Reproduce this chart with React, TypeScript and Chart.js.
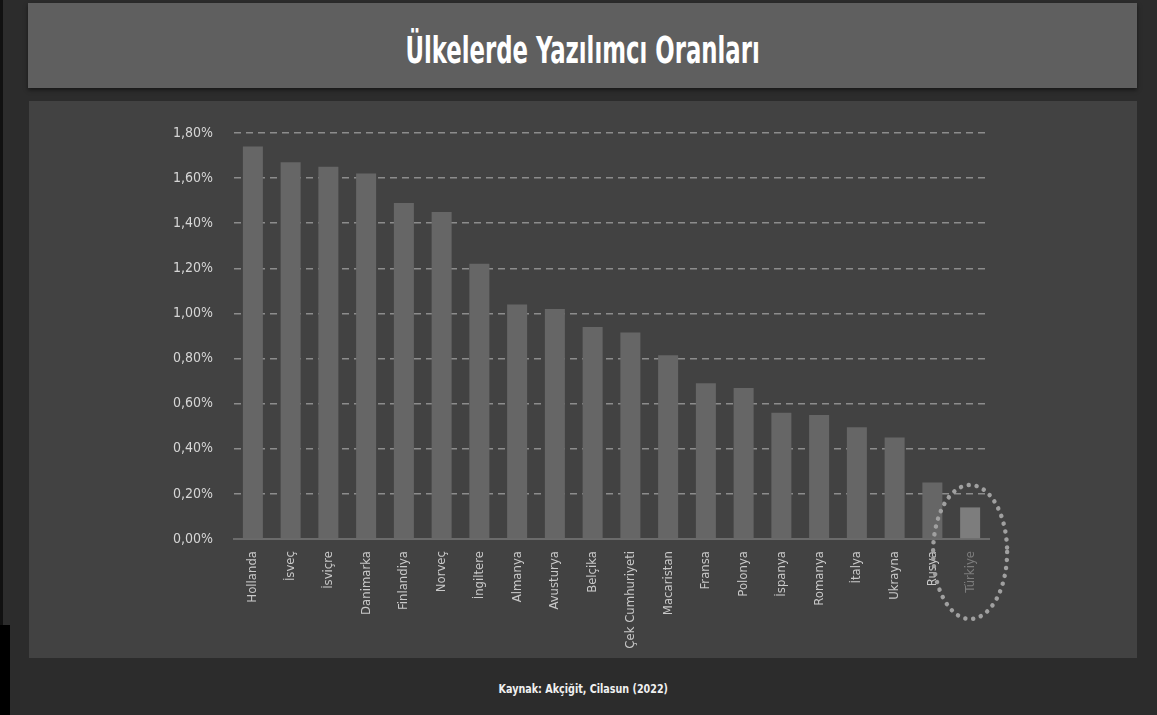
import React, { useEffect, useRef } from "react";
import { Chart, registerables } from "chart.js";

Chart.register(...registerables);

const categories = [
  "Hollanda", "İsveç", "İsviçre", "Danimarka", "Finlandiya", "Norveç",
  "İngiltere", "Almanya", "Avusturya", "Belçika", "Çek Cumhuriyeti",
  "Macaristan", "Fransa", "Polonya", "İspanya", "Romanya", "İtalya",
  "Ukrayna", "Rusya", "Türkiye",
];
const values = [
  1.74, 1.67, 1.65, 1.62, 1.49, 1.45, 1.22, 1.04, 1.02, 0.94, 0.915,
  0.815, 0.69, 0.67, 0.56, 0.55, 0.495, 0.45, 0.25, 0.14,
];
const yTickValues = [0, 0.2, 0.4, 0.6, 0.8, 1.0, 1.2, 1.4, 1.6, 1.8];
const highlightIndex = 19;
const titleText = "Ülkelerde Yazılımcı Oranları";
const sourceText = "Kaynak: Akçiğit, Cilasun (2022)";

function pickFont(cands: string[]): string {
  const c = document.createElement("canvas").getContext("2d");
  if (!c) return "sans-serif";
  const test = "Hollanda İsveç 1,80% Wmm";
  c.font = "40px monospace";
  const base = c.measureText(test).width;
  for (const f of cands) {
    c.font = `40px "${f}", monospace`;
    if (Math.abs(c.measureText(test).width - base) > 0.5) return f;
  }
  return "sans-serif";
}

const FONT = pickFont([
  "Liberation Sans Narrow",
  "DejaVu Sans Condensed",
  "Roboto Condensed",
  "Roboto",
]);

const ellipsePlugin = {
  id: "ellipseHighlight",
  afterDatasetsDraw(chart: any) {
    const xs = chart.scales.x;
    const ys = chart.scales.y;
    const cx = xs.getPixelForValue(highlightIndex);
    const cy = ys.getPixelForValue(0) + 13;
    const ctx = chart.ctx;
    ctx.save();
    ctx.beginPath();
    ctx.ellipse(cx, cy, 37, 67, 0, 0, Math.PI * 2);
    ctx.strokeStyle = "#a0a0a0";
    ctx.lineWidth = 4.5;
    ctx.lineCap = "round";
    ctx.setLineDash([0.01, 8]);
    ctx.stroke();
    ctx.restore();
  },
};

export default function App() {
  const canvasRef = useRef<HTMLCanvasElement | null>(null);

  useEffect(() => {
    document.body.style.margin = "0";
    document.body.style.background = "#2c2c2c";
    const canvas = canvasRef.current;
    if (!canvas) return;
    const chart = new Chart(canvas, {
      type: "bar",
      data: {
        labels: categories,
        datasets: [
          {
            data: values,
            backgroundColor: values.map((_, i) =>
              i === highlightIndex ? "#7d7d7d" : "#666666"
            ),
            borderWidth: 0,
            barPercentage: 0.53,
            categoryPercentage: 1,
          },
        ],
      },
      options: {
        animation: false,
        responsive: false,
        maintainAspectRatio: false,
        layout: { padding: { left: 0, right: 148, top: 32, bottom: 0 } },
        plugins: {
          legend: { display: false },
          tooltip: { enabled: false },
          title: { display: false },
        },
        scales: {
          x: {
            grid: { display: false, drawTicks: false },
            border: { display: true, color: "#6b6b6b", width: 2 },
            ticks: {
              autoSkip: false,
              minRotation: 90,
              maxRotation: 90,
              padding: 12,
              color: (ctx: any) =>
                ctx.index === highlightIndex ? "#7c7c7c" : "#c8c8c8",
              font: { family: FONT, size: 13 },
            },
            afterFit(scale: any) {
              scale.height = 119;
            },
          },
          y: {
            min: 0,
            max: 1.8,
            afterBuildTicks(scale: any) {
              scale.ticks = yTickValues.map((v) => ({ value: v }));
            },
            grid: {
              color: "#8c8c8c",
              lineWidth: 1.5,
              drawTicks: false,
            },
            border: { display: false, dash: [7, 5] },
            ticks: {
              padding: 21,
              color: "#d6d6d6",
              font: { family: FONT, size: 14 },
              callback: (v: any) =>
                (Math.round(Number(v) * 100) / 100).toFixed(2).replace(".", ",") + "%",
            },
            afterFit(scale: any) {
              scale.width = 205;
            },
          },
        },
      },
      plugins: [ellipsePlugin],
    });
    return () => chart.destroy();
  }, []);

  return (
    <div
      style={{
        position: "fixed",
        left: 0,
        top: 0,
        width: 1157,
        height: 715,
        background: "#2c2c2c",
        overflow: "hidden",
      }}
    >
      <div style={{ position: "absolute", left: 0, top: 0, width: 3, height: 715, background: "#111" }} />
      <div style={{ position: "absolute", left: 0, top: 625, width: 10, height: 90, background: "#000" }} />
      <div
        style={{
          position: "absolute",
          left: 28,
          top: 3,
          width: 1109,
          height: 85,
          background: "#5f5f5f",
          boxShadow: "0 2px 4px rgba(0,0,0,0.5)",
          display: "flex",
          alignItems: "center",
          justifyContent: "center",
        }}
      >
        <div
          style={{
            color: "#ffffff",
            fontFamily: `"${FONT}", sans-serif`,
            fontWeight: "bold",
            fontSize: 38,
            transform: "scaleX(0.667)",
            whiteSpace: "nowrap",
            marginTop: 9,
          }}
        >
          {titleText}
        </div>
      </div>
      <div
        style={{
          position: "absolute",
          left: 29,
          top: 101,
          width: 1108,
          height: 557,
          background: "#424242",
        }}
      >
        <canvas ref={canvasRef} width={1108} height={557} style={{ width: 1108, height: 557, display: "block" }} />
      </div>
      <div
        style={{
          position: "absolute",
          left: 29,
          top: 681,
          width: 1108,
          display: "flex",
          justifyContent: "center",
        }}
      >
        <div
          style={{
            color: "#f0f0f0",
            fontFamily: `"${FONT}", sans-serif`,
            fontWeight: "bold",
            fontSize: 13,
            transform: "scaleX(0.82)",
            whiteSpace: "nowrap",
          }}
        >
          {sourceText}
        </div>
      </div>
    </div>
  );
}
